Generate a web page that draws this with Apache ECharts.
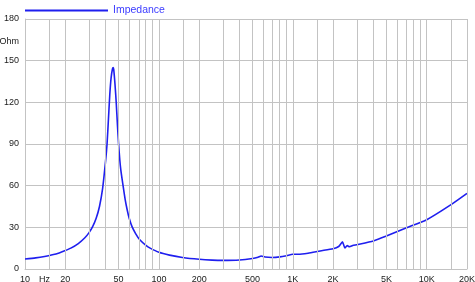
<!DOCTYPE html>
<html>
<head>
<meta charset="utf-8">
<script src="https://cdn.jsdelivr.net/npm/echarts@6/dist/echarts.min.js"></script>
<style>
  html, body { margin: 0; padding: 0; background: #fff; }
  #chart { width: 475px; height: 282px; }
</style>
</head>
<body>
<div id="chart"></div>
<script>
// impedance curve (Hz / Ohm)
const freqs = [10, 12, 14, 16, 18, 20, 22, 25, 28, 30, 32, 34, 36, 38, 40, 41, 42, 43, 44, 45, 45.6, 46, 47, 48, 49, 50, 51, 52, 54, 56, 58, 60, 63, 67, 72, 80, 86, 100, 120, 150, 200, 250, 300, 400, 500, 550, 580, 620, 700, 800, 900, 1000, 1100, 1300, 1600, 2000, 2200, 2350, 2450, 2550, 2650, 2800, 3000, 4000, 5000, 7000, 10000, 15000, 20000]
const ohms = [7.2, 8.0, 9.0, 10.2, 11.6, 13.3, 15.0, 18.3, 22.5, 26, 30.5, 36.5, 45, 58, 78, 90, 108, 126, 138, 144, 145, 143.5, 133, 120, 104, 90, 79, 71, 60, 50, 42.5, 36.5, 30.5, 25.5, 21, 17, 15, 12, 10, 8.3, 7.0, 6.4, 6.2, 6.5, 7.6, 8.5, 9.4, 8.6, 8.3, 8.7, 9.6, 10.6, 10.6, 11.4, 13, 14.6, 16.2, 19.5, 15.2, 16.8, 16, 16.9, 17.5, 20.2, 23.7, 29.5, 35.5, 46, 54.5]

const gridFreqs = [15, 20, 30, 40, 50, 60, 70, 80, 90, 100, 150, 200, 300, 400, 500, 600, 700, 800, 900, 1000, 1500, 2000, 3000, 4000, 5000, 6000, 7000, 8000, 9000, 10000, 15000, 20000]
const xLabelFreqs = [10, 14, 20, 50, 100, 200, 500, 1000, 2000, 5000, 10000, 20000]
const xLabelText = ['10', 'Hz', '20', '50', '100', '200', '500', '1K', '2K', '5K', '10K', '20K']
const yLabelValues = [0, 30, 60, 90, 120, 150, 163.5, 180]
const yLabelText = ['0', '30', '60', '90', '120', '150', 'Ohm', '180']

const gridColor = '#c3c3c3'
const lineColor = '#1f1fef'

const chart = echarts.init(document.getElementById('chart'))

const points = freqs.map((f, i) => [Math.log10(f), ohms[i]])

chart.setOption({
  animation: false,
  textStyle: { fontFamily: 'Liberation Sans, Arial, sans-serif' },
  legend: {
    left: 20,
    top: 0,
    itemWidth: 83,
    itemHeight: 2,
    icon: 'rect',
    data: ['Impedance'],
    textStyle: { color: '#3b3bff', fontSize: 10.5 }
  },
  grid: { left: 25, right: 8, top: 19, bottom: 13, outerBoundsMode: 'none', containLabel: false },
  xAxis: {
    type: 'value',
    min: 1,
    max: Math.log10(20000),
    axisLine: { lineStyle: { color: gridColor } },
    axisTick: { show: false },
    splitLine: { show: false },
    axisLabel: {
      customValues: xLabelFreqs.map(f => Math.log10(f)),
      formatter: v => xLabelText[xLabelFreqs.indexOf(Math.round(Math.pow(10, v)))],
      color: '#1a1a1a',
      fontSize: 9,
      margin: 6
    }
  },
  yAxis: {
    type: 'value',
    min: 0,
    max: 180,
    interval: 30,
    axisLine: { show: true, lineStyle: { color: gridColor } },
    axisTick: { show: false },
    splitLine: { lineStyle: { color: gridColor } },
    axisLabel: {
      customValues: yLabelValues,
      formatter: v => yLabelText[yLabelValues.indexOf(v)],
      color: '#1a1a1a',
      fontSize: 9,
      margin: 6
    }
  },
  series: [
    {
      name: 'grid',
      type: 'line',
      z: 1,
      data: points,
      symbol: 'none',
      lineStyle: { opacity: 0 },
      silent: true,
      markLine: {
        silent: true,
        symbol: 'none',
        label: { show: false },
        lineStyle: { color: gridColor, type: 'solid', width: 1 },
        data: gridFreqs.map(f => ({ xAxis: Math.log10(f) }))
      }
    },
    {
      name: 'Impedance',
      type: 'line',
      z: 3,
      data: points,
      symbol: 'none',
      smooth: 0.2,
      color: lineColor,
      lineStyle: { color: lineColor, width: 1.6 }
    }
  ]
})
</script>
</body>
</html>
